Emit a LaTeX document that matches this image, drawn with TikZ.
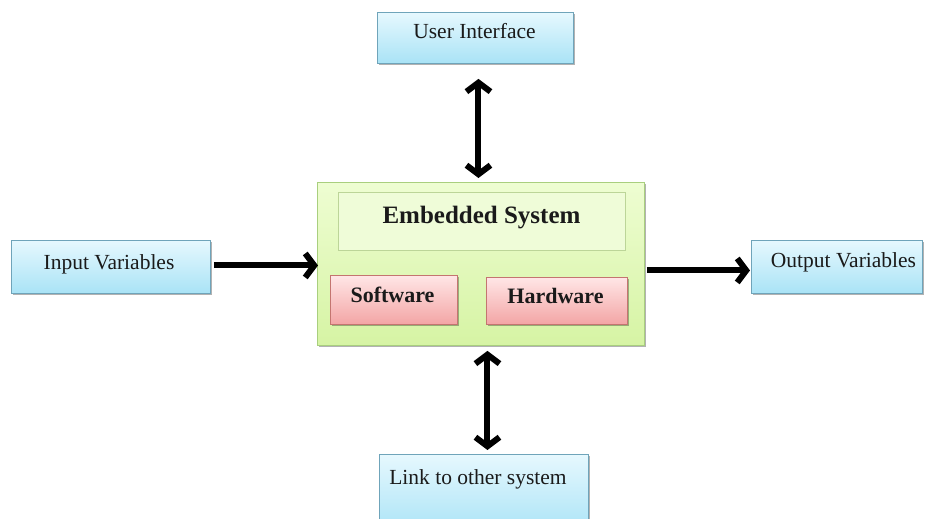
\documentclass[tikz,border=0pt]{standalone}
\usepackage{fontspec}
\setmainfont{Liberation Serif}
\usetikzlibrary{arrows.meta,shadows}
\definecolor{blueTop}{HTML}{E6F8FE}
\definecolor{blueBot}{HTML}{A9E3F6}
\definecolor{blueBrd}{HTML}{6FA4BA}
\definecolor{grnTop}{HTML}{EEFDD2}
\definecolor{grnBot}{HTML}{D6F4A4}
\definecolor{grnBrd}{HTML}{A9CF7E}
\definecolor{grnIn}{HTML}{EFFCD8}
\definecolor{grnInBrd}{HTML}{BCD598}
\definecolor{redTop}{HTML}{FFE6E6}
\definecolor{redBot}{HTML}{F3A5A5}
\definecolor{redBrd}{HTML}{C47570}
\definecolor{txt}{HTML}{1A1A1A}
\begin{document}
\begin{tikzpicture}[x=1pt,y=-1pt,
  shd/.style={drop shadow={shadow xshift=1.5pt,shadow yshift=-2pt,fill=black,opacity=0.3}},
  box/.style={rectangle,inner sep=0pt,anchor=north west,line width=0.9pt},
  bluebox/.style={box,shd,draw=blueBrd,top color=blueTop,bottom color=blueBot},
  greenbox/.style={box,shd,draw=grnBrd,top color=grnTop,bottom color=grnBot},
  innerbox/.style={box,draw=grnInBrd,fill=grnIn},
  redbox/.style={box,shd,draw=redBrd,top color=redTop,bottom color=redBot},
  lbl/.style={anchor=base,inner sep=0pt,text=txt,font=\fontsize{21.5}{24}\selectfont},
  blbl/.style={lbl,font=\fontsize{22}{24}\selectfont\bfseries},
  arr/.style={line width=6pt,-{Straight Barb[length=9pt,width=24pt]}},
  darr/.style={line width=6pt,{Straight Barb[length=9pt,width=24pt]}-{Straight Barb[length=9pt,width=24pt]}}
]
\clip (0,0) rectangle (926,519);
\fill[white] (0,0) rectangle (926,519);

% boxes
\node[bluebox,minimum width=196pt,minimum height=51pt] (ui) at (377,12) {};
\node[bluebox,minimum width=199pt,minimum height=53pt] (in) at (11,240) {};
\node[bluebox,minimum width=171pt,minimum height=53pt] (out) at (751,240) {};
\node[bluebox,minimum width=209pt,minimum height=80pt] (link) at (379,454) {};
\node[greenbox,minimum width=327pt,minimum height=163pt] (es) at (317,182) {};
\node[innerbox,minimum width=287pt,minimum height=58pt] (esin) at (338,192) {};
\node[redbox,minimum width=127pt,minimum height=49pt] (sw) at (330,275) {};
\node[redbox,minimum width=141pt,minimum height=47pt] (hw) at (486,277) {};

% labels
\node[lbl] (uiT) at (474.5,39) {User Interface};
\node[lbl] (inT) at (109,269) {Input Variables};
\node[lbl] (outT) at (843.5,267) {Output Variables};
\node[lbl] (linkT) at (478,484) {Link to other system};
\node[lbl,font=\fontsize{25}{28}\selectfont\bfseries] (esT) at (481.5,223) {Embedded System};
\node[blbl] (swT) at (392.5,302) {Software};
\node[blbl] (hwT) at (555.5,303) {Hardware};

% connectors
\draw[darr,shorten <=15pt,shorten >=4pt] ([xshift=3pt]ui.south) -- ([xshift=3pt]ui.south |- es.north);
\draw[darr,shorten <=4pt,shorten >=5pt] ([xshift=3.5pt]link.north) -- ([xshift=3.5pt]link.north |- es.south);
\draw[arr,shorten <=3pt,shorten >=-1pt] ([yshift=1.5pt]in.east) -- ([yshift=1.5pt]in.east -| es.west);
\draw[arr,shorten <=2pt,shorten >=1pt] ([yshift=-3.5pt]out.west -| es.east) -- ([yshift=-3.5pt]out.west);
\end{tikzpicture}
\end{document}
